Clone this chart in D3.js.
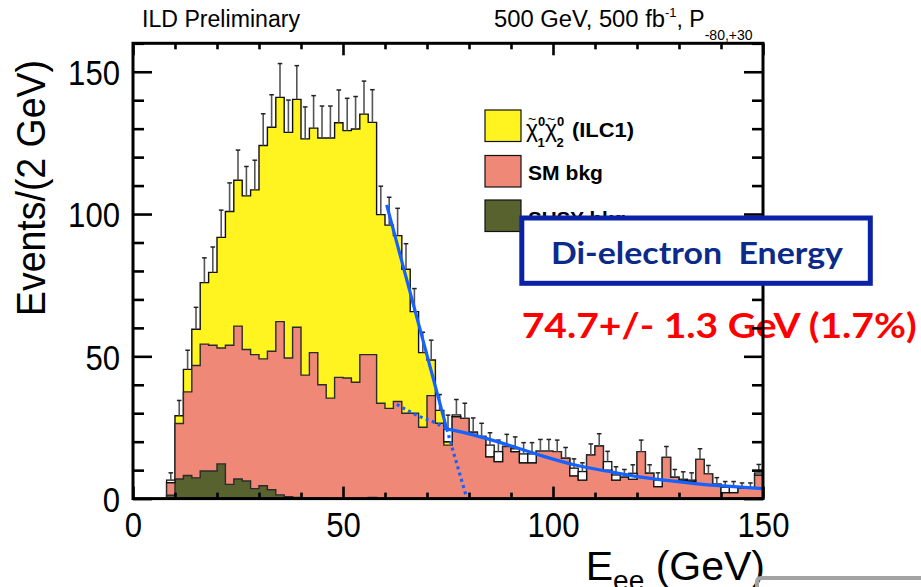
<!DOCTYPE html>
<html>
<head>
<meta charset="utf-8">
<script src="https://cdn.jsdelivr.net/npm/d3@7"></script>
<style>
  html, body { margin: 0; padding: 0; background: #fff; }
  svg { display: block; font-family: "Liberation Sans", Arial, sans-serif; }
</style>
</head>
<body>
<svg id="chart" width="921" height="587"></svg>
<script>
// ---- histogram data: 2 GeV bins of the di-electron energy ----
const binLow = [8,10,12,14,16,18,20,22,24,26,28,30,32,34,36,38,40,42,44,46,48,50,52,54,56,58,
  60,62,64,66,68,70,72,74,76,78,80,82,84,86,88,90,92,94,96,98,100,102,104,106,108,110,112,114,
  116,118,120,122,124,126,128,130,132,134,136,138,140,142,144,146,148];
const binWidth = 2;

// SUSY background (bottom of the stack)
const susyBkg = [1.2,6.9,8.1,7.3,9.7,9.7,12.2,5.0,6.9,6.2,3.5,4.5,3.1,1.3,0.7,0.4,0.3,0.2,0.1,0,
  0,0,0,0,0.4,0,0,0,0,0,0,0,0,0,0,0,0,0,0,0,0,0,0,0,0,0,0,0,0,0,0,0,0,0,0,0,0,0,0,0,0,0,0,0,0,0,0,0,0,0,0];

// Standard Model background
const smBkg = [4.4,19.5,29.4,39.5,44.6,44.2,40.7,48.9,53.7,46.2,
  47.1,44.6,48.7,60.9,48.7,59.8,43.1,51.1,39.9,35.3,
  42.6,42.4,40.9,50.6,50.2,33.5,31.7,34.1,30.0,30.0,
  25.1,36.2,26.5,18.8,28.8,28.2,23.3,21.8,14.7,13.0,
  18.3,16.5,12.6,12.6,16.7,16.7,16.5,14.2,8.0,6.5,
  15.3,18.5,10.0,6.5,7.5,6.8,16.5,8.9,4.2,14.5,
  7.5,6.3,6.0,13.8,8.7,5.1,2.1,2.1,3.6,3.6,8.3];

// chi1-chi2 signal (ILC1)
const signal = [0,2.7,7.9,12.7,21.6,25.6,38.9,47.0,51.3,54.0,
  57.9,75.0,78.7,78.8,79.3,80.1,83.0,78.9,86.7,91.4,
  89.5,86.9,89.0,84.5,81.6,66.3,64.4,58.3,50.6,35.7,
  26.2,12.5,4.5,1.2,0,0,0,0,0,0,0,0,0,0,0,0,0,0,0,0,0,0,0,0,0,0,0,0,0,0,0,0,0,0,0,0,0,0,0,0,0];

// observed (pseudo-data) counts
const observed = [6.5,29.1,45.4,59.5,75.9,79.5,91.8,100.9,111.9,106.4,
  108.5,124.1,130.5,141.0,128.7,140.3,126.4,130.2,126.7,126.7,
  132.1,129.3,129.9,135.1,132.2,99.8,96.1,92.4,80.6,65.7,
  51.3,48.7,31.0,24.4,29.4,28.2,23.5,21.8,18.8,16.5,
  18.3,17.5,15.7,15.7,16.7,16.7,16.5,14.2,10.7,9.5,
  15.3,18.5,13.0,8.3,7.5,8.9,16.5,8.9,6.5,14.5,
  7.5,6.8,6.5,13.8,8.7,5.1,4.0,4.0,3.6,3.6,9.0];

// edge fit: straight falling edge and smooth background (points in GeV, events)
const fitEdge = [[60.4,103.2],[74.7,24.5]];
const fitEdgeExt = [[74.7,24.5],[79.5,0]];
const fitBkg = [[74.7,24.5],[81,22.4],[89,19.0],[97,15.2],[105,11.9],[113,9.6],[119,8.0],
  [127,6.4],[135,5.1],[143,4.2],[150,3.5]];
const fitBkgExt = [[62.8,33.1],[68.3,28.8],[72.3,26.4],[74.7,24.5]];

const xTicksMajor = [0,50,100,150];
const yTicksMajor = [0,50,100,150];

// ---- setup ----
const svg = d3.select("#chart");
const x = d3.scaleLinear().domain([0,150]).range([133,763]);
const y = d3.scaleLinear().domain([0,160]).range([498.6,43.3]);

const colors = { susy: "#58622f", sm: "#f08878", signal: "#fff41f" };

const rows = binLow.map((lo,i) => ({ lo, susy: susyBkg[i], sm: smBkg[i], signal: signal[i], obs: observed[i] }));
const layers = d3.stack().keys(["susy","sm","signal"])(rows);

const lastEdge = binLow[binLow.length-1] + binWidth;
function stepPoints(tops) {
  const pts = [[binLow[0], 0]];
  tops.forEach((t,i) => pts.push([binLow[i], t]));
  pts.push([lastEdge, tops[tops.length-1]]);
  pts.push([lastEdge, 0]);
  return pts;
}
const area = d3.area().curve(d3.curveStepAfter).x(d => x(d[0])).y0(y(0)).y1(d => y(d[1]));
const line = d3.line().curve(d3.curveStepAfter).x(d => x(d[0])).y(d => y(d[1]));

const gHist = svg.append("g");
// draw the stack from the top layer down so each lower layer covers the one above
[["signal",2],["sm",1],["susy",0]].forEach(([key,idx]) => {
  const tops = layers[idx].map(d => d[1]);
  const pts = stepPoints(tops);
  gHist.append("path").attr("d", area(pts)).attr("fill", colors[key]);
  gHist.append("path").attr("d", line(pts)).attr("fill","none")
    .attr("stroke", key === "signal" ? "#111" : "#2b2b2b").attr("stroke-width", 1.4);
});

// observed counts that lie above the stack
const stackTop = layers[2].map(d => d[1]);
gHist.selectAll("rect.excess").data(rows.filter((r,i) => r.obs > stackTop[i] + 0.3))
  .join("rect").attr("class","excess")
  .attr("x", d => x(d.lo)).attr("width", d => x(d.lo + binWidth) - x(d.lo))
  .attr("y", d => y(d.obs))
  .attr("height", d => y(stackTop[rows.indexOf(d)]) - y(d.obs))
  .attr("fill","#fff").attr("stroke","#111").attr("stroke-width",1.3);

// statistical error bars (upper half)
const gErr = svg.append("g");
rows.filter(r => r.obs > 0).forEach(r => {
  const cx = x(r.lo + binWidth/2);
  const y0 = y(r.obs), y1 = y(r.obs + Math.sqrt(r.obs));
  gErr.append("line").attr("x1",cx).attr("x2",cx).attr("y1",y0).attr("y2",y1)
    .attr("stroke","#555").attr("stroke-width",1.6);
  gErr.append("line").attr("x1",cx-2.3).attr("x2",cx+2.3).attr("y1",y1).attr("y2",y1)
    .attr("stroke","#222").attr("stroke-width",1.5);
});

// ---- fit curves ----
const fitLine = d3.line().curve(d3.curveMonotoneX).x(d => x(d[0])).y(d => y(d[1]));
const gFit = svg.append("g").attr("fill","none").attr("stroke","#1462ff").attr("stroke-width",3.2);
gFit.append("path").attr("d", fitLine(fitEdge));
gFit.append("path").attr("d", fitLine(fitBkg));
gFit.append("path").attr("d", fitLine(fitEdgeExt)).attr("stroke-dasharray","3 3.5");
gFit.append("path").attr("d", fitLine(fitBkgExt)).attr("stroke-dasharray","3 3.5");

// ---- result text ----
svg.append("text").attr("x",521.7).attr("y",338)
  .attr("font-family","Lato, 'Open Sans', sans-serif").attr("font-weight","bold").attr("font-size",35)
  .attr("fill","#ff0000").attr("textLength",395).attr("lengthAdjust","spacingAndGlyphs")
  .text("74.7+/- 1.3 GeV (1.7%)");

// ---- frame and axes ----
const tickStyle = g => {
  g.select(".domain").remove();
  g.selectAll(".tick line").attr("stroke","#000").attr("stroke-width",2.6);
  g.attr("font-family",null).attr("font-size",null);
};
const yMinor = d3.range(0,161,10).filter(v => v % 50 !== 0);
const xMinor = d3.range(0,151,10).filter(v => v % 50 !== 0);

function labelStyle(g) {
  g.selectAll(".tick text")
    .attr("font-family","'Liberation Sans', Arial, sans-serif")
    .attr("font-size",35).attr("fill","#000")
    .attr("textLength", function() { return this.textContent.length * 17.3; })
    .attr("lengthAdjust","spacingAndGlyphs");
}

svg.append("g").attr("transform",`translate(${x(0)},0)`)
  .call(d3.axisLeft(y).tickValues(yMinor).tickSizeInner(-11).tickSizeOuter(0).tickFormat(""))
  .call(tickStyle);
svg.append("g").attr("transform",`translate(${x(0)},0)`)
  .call(d3.axisLeft(y).tickValues(yTicksMajor).tickSizeInner(-19).tickSizeOuter(0).tickPadding(13))
  .call(tickStyle).call(labelStyle)
  .call(g => g.selectAll(".tick text").attr("dy","0.37em"));

svg.append("g").attr("transform",`translate(${x(150)},0)`)
  .call(d3.axisRight(y).tickValues(yMinor).tickSizeInner(-11).tickSizeOuter(0).tickFormat(""))
  .call(tickStyle);
svg.append("g").attr("transform",`translate(${x(150)},0)`)
  .call(d3.axisRight(y).tickValues(yTicksMajor).tickSizeInner(-19).tickSizeOuter(0).tickFormat(""))
  .call(tickStyle);

svg.append("g").attr("transform",`translate(0,${y(0)})`)
  .call(d3.axisBottom(x).tickValues(xMinor).tickSizeInner(-6).tickSizeOuter(0).tickFormat(""))
  .call(tickStyle);
svg.append("g").attr("transform",`translate(0,${y(0)})`)
  .call(d3.axisBottom(x).tickValues(xTicksMajor).tickSizeInner(-12).tickSizeOuter(0).tickPadding(14))
  .call(tickStyle).call(labelStyle);

svg.append("g").attr("transform",`translate(0,${y(160)})`)
  .call(d3.axisTop(x).tickValues(xMinor).tickSizeInner(-6).tickSizeOuter(0).tickFormat(""))
  .call(tickStyle);
svg.append("g").attr("transform",`translate(0,${y(160)})`)
  .call(d3.axisTop(x).tickValues(xTicksMajor).tickSizeInner(-12).tickSizeOuter(0).tickFormat(""))
  .call(tickStyle);

svg.append("rect").attr("x",x(0)).attr("y",y(160))
  .attr("width",x(150)-x(0)).attr("height",y(0)-y(160))
  .attr("fill","none").attr("stroke","#000").attr("stroke-width",3);

// axis titles
svg.append("text").attr("transform","translate(45,60) rotate(-90)")
  .attr("text-anchor","end").attr("font-size",41)
  .attr("textLength",256).attr("lengthAdjust","spacingAndGlyphs")
  .text("Events/(2 GeV)");

const xt = svg.append("text").attr("x",765).attr("y",580).attr("text-anchor","end").attr("font-size",41);
xt.append("tspan").text("E");
xt.append("tspan").attr("font-size",28).attr("dy",10).text("ee");
xt.append("tspan").attr("dy",-10).text(" (GeV)");

// header texts
svg.append("text").attr("x",142).attr("y",27).attr("font-size",23)
  .attr("textLength",158).attr("lengthAdjust","spacingAndGlyphs").text("ILD Preliminary");
const hdr = svg.append("text").attr("x",494).attr("y",27).attr("font-size",23);
hdr.append("tspan").attr("textLength",171).attr("lengthAdjust","spacingAndGlyphs").text("500 GeV, 500 fb");
hdr.append("tspan").attr("font-size",13).attr("dy",-10).text("-1");
hdr.append("tspan").attr("dy",10).text(", P");
hdr.append("tspan").attr("font-size",14).attr("dy",13).text("-80,+30");

// ---- legend ----
const legend = [
  { key: "signal", y: 110 },
  { key: "sm", y: 155.5 },
  { key: "susy", y: 200 }
];
const gLeg = svg.append("g").attr("font-weight","bold");
gLeg.selectAll("rect").data(legend).join("rect")
  .attr("x",485).attr("y",d => d.y).attr("width",36).attr("height",31.5)
  .attr("fill",d => colors[d.key]).attr("stroke","#111").attr("stroke-width",1.2);

// chi~_1^0 chi~_2^0 (ILC1): one text element, each piece placed explicitly
const chiParts = [
  { s: "χ", x: 526, y: 137, size: 23, w: "normal" },
  { s: "~", x: 528, y: 124, size: 14, w: "normal" },
  { s: "0", x: 538, y: 126, size: 13, w: "bold" },
  { s: "1", x: 537.5, y: 147, size: 13, w: "bold" },
  { s: "χ", x: 545, y: 137, size: 23, w: "normal" },
  { s: "~", x: 547, y: 124, size: 14, w: "normal" },
  { s: "0", x: 557, y: 126, size: 13, w: "bold" },
  { s: "2", x: 556.5, y: 147, size: 13, w: "bold" }
];
const chi = gLeg.append("text");
chiParts.forEach(p => chi.append("tspan").attr("x",p.x).attr("y",p.y)
  .attr("font-size",p.size).attr("font-weight",p.w).text(p.s));
chi.append("tspan").attr("x",572).attr("y",137).attr("font-size",21)
  .attr("textLength",62).attr("lengthAdjust","spacingAndGlyphs").text("(ILC1)");

gLeg.append("text").attr("x",528).attr("y",180).attr("font-size",21)
  .attr("textLength",75).attr("lengthAdjust","spacingAndGlyphs").text("SM bkg");
gLeg.append("text").attr("x",528).attr("y",226).attr("font-size",21)
  .attr("textLength",98).attr("lengthAdjust","spacingAndGlyphs").text("SUSY bkg");

// ---- annotation box ----
svg.append("rect").attr("x",521.8).attr("y",218).attr("width",348.5).attr("height",65.3)
  .attr("fill","#fff").attr("stroke","#0a22a5").attr("stroke-width",5);
svg.append("text").attr("x",551).attr("y",264)
  .attr("font-family","Lato, 'Open Sans', sans-serif").attr("font-weight","bold").attr("font-size",31)
  .attr("fill","#0c2a8a").style("white-space","pre")
  .attr("textLength",292).attr("lengthAdjust","spacingAndGlyphs")
  .text("Di-electron  Energy");

// partial frame of a neighbouring panel, bottom right
svg.append("path").attr("d","M757,592 L757,582 Q757,578 761,578 L925,578")
  .attr("fill","none").attr("stroke","#a3a3a3").attr("stroke-width",4);
</script>
</body>
</html>
